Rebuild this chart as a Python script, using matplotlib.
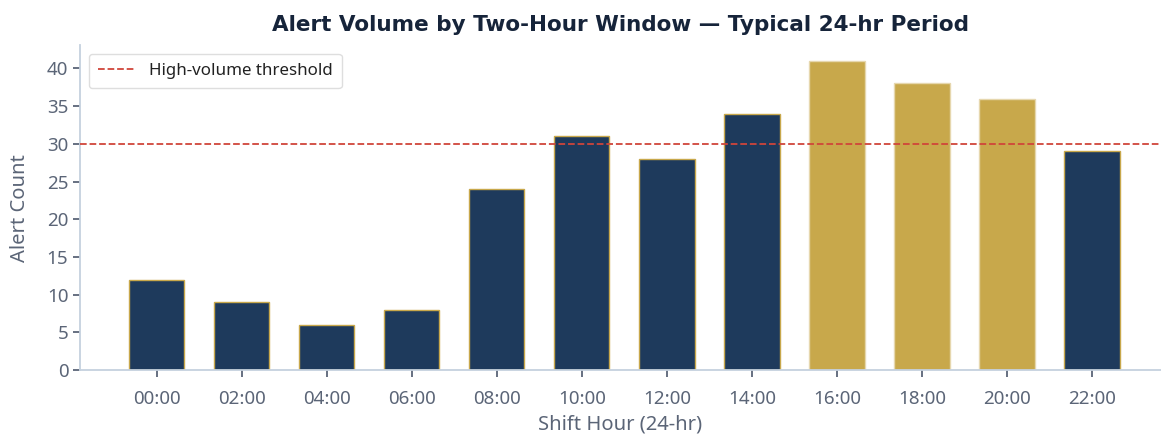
import numpy as np
import matplotlib
matplotlib.use("Agg")
import matplotlib.pyplot as plt

# alert counts per two-hour window
hours = ["00:00", "02:00", "04:00", "06:00", "08:00", "10:00",
         "12:00", "14:00", "16:00", "18:00", "20:00", "22:00"]
counts = [12, 9, 6, 8, 24, 31, 28, 34, 41, 38, 36, 29]
peak_hours = ["16:00", "18:00", "20:00"]
threshold = 30

NAVY = "#1e3a5c"
GOLD = "#c8a84b"
GREY = "#5b6577"

plt.rcParams["font.family"] = ["Noto Sans", "DejaVu Sans"]

fig = plt.figure(figsize=(11.61, 4.36), dpi=100)
ax = fig.add_axes([0.069, 0.151, 0.931, 0.745])

x = np.arange(len(hours))
colors = [GOLD if h in peak_hours else NAVY for h in hours]
edges = ["#e6d7ae" if h in peak_hours else GOLD for h in hours]
ax.bar(x, counts, width=0.65, color=colors, edgecolor=edges, linewidth=1.0, zorder=2)

ax.axhline(threshold, color="#d0453a", linestyle="--", linewidth=1.3,
           label="High-volume threshold", zorder=3)

ax.set_xticks(x)
ax.set_xticklabels(hours)
ax.set_xlim(-0.9, 11.81)
ax.set_ylim(0, max(counts) * 1.05)
ax.set_yticks(range(0, 45, 5))

ax.set_title("Alert Volume by Two-Hour Window \u2014 Typical 24-hr Period",
             fontsize=15.5, fontweight="bold", color="#16243a",
             family="DejaVu Sans", pad=10)
ax.set_xlabel("Shift Hour (24-hr)", fontsize=14.5, color=GREY, labelpad=5)
ax.set_ylabel("Alert Count", fontsize=14.5, color=GREY, labelpad=12)

for s in ["top", "right"]:
    ax.spines[s].set_visible(False)
for s in ["left", "bottom"]:
    ax.spines[s].set_color("#c5d1de")
    ax.spines[s].set_linewidth(1.3)
ax.tick_params(colors=GREY, labelsize=13.5, length=5, width=1.3)
ax.tick_params(axis="x", pad=9)

leg = ax.legend(loc="upper left", prop={"family": "Noto Sans", "size": 12.2},
                frameon=True, handlelength=2.2, borderpad=0.55)
leg.get_frame().set_edgecolor("#d6d6d6")
for t in leg.get_texts():
    t.set_color("#222222")

fig.savefig("out.png", dpi=100)
